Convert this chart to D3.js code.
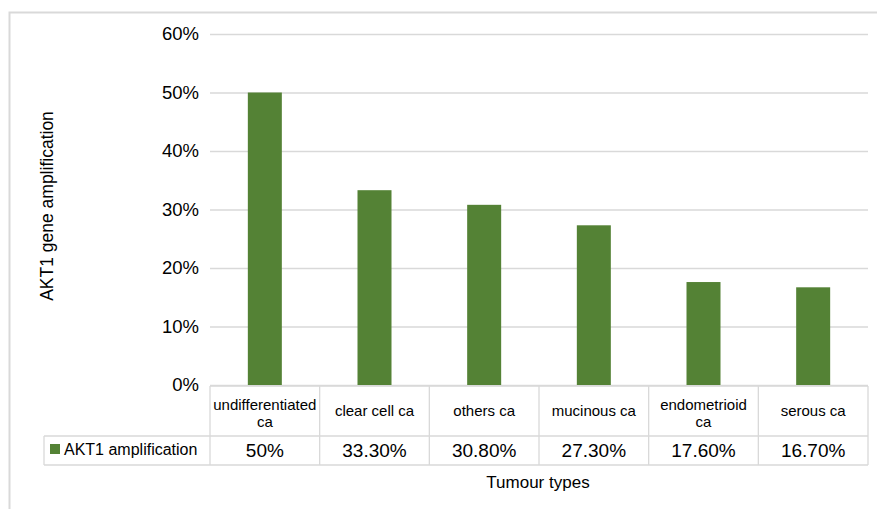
<!DOCTYPE html>
<html><head><meta charset="utf-8">
<script src="https://cdn.jsdelivr.net/npm/d3@7"></script>
<style>body{margin:0;background:#fff;font-family:"Liberation Sans",Arial,sans-serif}</style>
</head><body>
<svg id="c" width="877" height="509"></svg>
<script>
const categories = [["undifferentiated","ca"],["clear cell ca"],["others ca"],["mucinous ca"],["endometrioid","ca"],["serous ca"]];
const values = [0.50, 0.333, 0.308, 0.273, 0.176, 0.167];
const valueLabels = ["50%","33.30%","30.80%","27.30%","17.60%","16.70%"];
const yTicks = [0,0.1,0.2,0.3,0.4,0.5,0.6];
const seriesName = "AKT1 amplification";
const yTitle = "AKT1 gene amplification";
const xTitle = "Tumour types";

const svg = d3.select("#c");
const green = "#548235", grid = "#d9d9d9";
svg.append("rect").attr("x",9.5).attr("y",12.5).attr("width",900).attr("height",600)
  .attr("fill","#fff").attr("stroke","#d9d9d9").attr("stroke-width",2);

const x0=210, x1=868, yTop=34, yBot=385;
const x = d3.scaleBand().domain(d3.range(categories.length)).range([x0,x1]).paddingInner(0).paddingOuter(0);
const y = d3.scaleLinear().domain([0,0.6]).range([yBot,yTop]);

const yAxis = d3.axisLeft(y).tickValues(yTicks).tickFormat(d3.format(".0%")).tickSize(-(x1-x0)).tickPadding(11);
const ga = svg.append("g").attr("transform",`translate(${x0},0)`).call(yAxis);
ga.select(".domain").remove();
ga.selectAll(".tick line").attr("stroke",grid).attr("stroke-width",1.3);
ga.selectAll(".tick text").attr("font-size",18.5).attr("fill","#000").attr("font-family","Liberation Sans, Arial, sans-serif");

const bw = 34;
svg.selectAll(".bar").data(values).enter().append("rect")
  .attr("x",(d,i)=>x(i)+x.bandwidth()/2-bw/2).attr("width",bw)
  .attr("y",d=>y(d)).attr("height",d=>y(0)-y(d)).attr("fill",green);

// table
const rowTop=386, rowMid=436, rowBot=465, legLeft=44;
const tg = svg.append("g").attr("stroke",grid).attr("stroke-width",1.3).attr("fill","none");
tg.append("line").attr("x1",x0).attr("x2",x1).attr("y1",rowTop).attr("y2",rowTop);
tg.append("line").attr("x1",legLeft).attr("x2",x1).attr("y1",rowMid).attr("y2",rowMid);
tg.append("line").attr("x1",legLeft).attr("x2",x1).attr("y1",rowBot).attr("y2",rowBot);
tg.append("line").attr("x1",legLeft).attr("x2",legLeft).attr("y1",rowMid).attr("y2",rowBot);
for(let i=0;i<=categories.length;i++){
  const xx = i<categories.length? x(i): x1;
  tg.append("line").attr("x1",xx).attr("x2",xx).attr("y1",rowTop).attr("y2",rowBot);
}
categories.forEach((c,i)=>{
  const cx = x(i)+x.bandwidth()/2;
  const t = svg.append("text").attr("text-anchor","middle").attr("font-size",15).attr("fill","#000");
  const startY = c.length===1 ? 416 : 410;
  c.forEach((line,j)=>t.append("tspan").attr("x",cx).attr("y",startY+j*17).text(line));
  svg.append("text").attr("x",cx).attr("y",457).attr("text-anchor","middle").attr("font-size",19).attr("fill","#000").text(valueLabels[i]);
});
svg.append("rect").attr("x",50).attr("y",444).attr("width",10).attr("height",10).attr("fill",green);
svg.append("text").attr("x",64).attr("y",455).attr("font-size",16).attr("fill","#000").text(seriesName);

svg.append("text").attr("x",538).attr("y",488).attr("text-anchor","middle").attr("font-size",17).attr("fill","#000").text(xTitle);
svg.append("text").attr("transform","translate(53,206) rotate(-90)").attr("text-anchor","middle").attr("font-size",17.5).attr("fill","#000").text(yTitle);
</script>
</body></html>
